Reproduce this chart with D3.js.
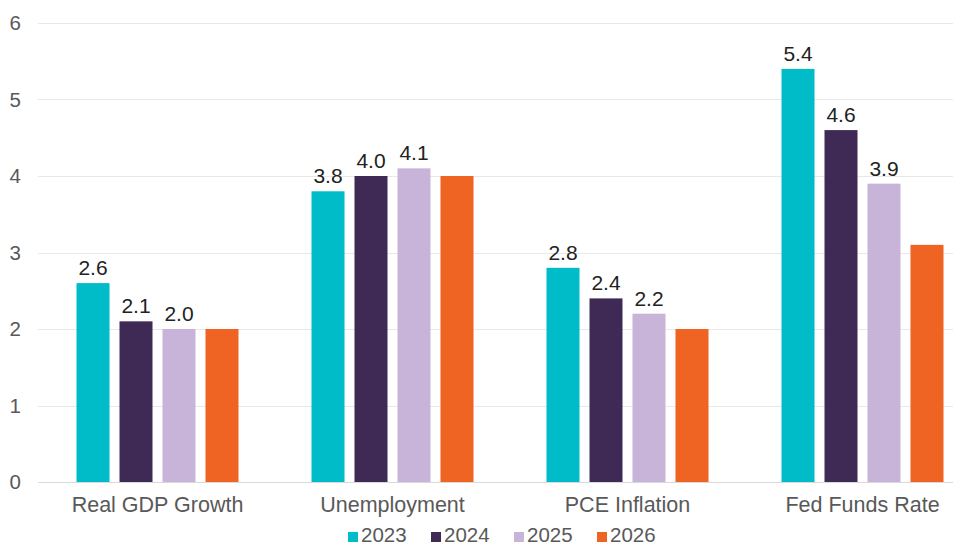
<!DOCTYPE html>
<html>
<head>
<meta charset="utf-8">
<script src="https://cdn.jsdelivr.net/npm/d3@7/dist/d3.min.js"></script>
<style>
  html, body { margin: 0; padding: 0; background: #ffffff; }
  svg { display: block; font-family: "Liberation Sans", Arial, sans-serif; }
</style>
</head>
<body>
<svg id="chart" width="953" height="548"></svg>
<script>
const categories = ["Real GDP Growth", "Unemployment", "PCE Inflation", "Fed Funds Rate"];
const series = ["2023", "2024", "2025", "2026"];
const values2023 = [2.6, 3.8, 2.8, 5.4];
const values2024 = [2.1, 4.0, 2.4, 4.6];
const values2025 = [2.0, 4.1, 2.2, 3.9];
const values2026 = [2.0, 4.0, 2.0, 3.1];
const labeledSeries = ["2023", "2024", "2025"];
const yTicks = [0, 1, 2, 3, 4, 5, 6];
const colors = ["#00BCC8", "#3F2A56", "#C9B4D9", "#EF6323"];

const seriesValues = [values2023, values2024, values2025, values2026];
const rows = categories.map((c, i) => ({
  category: c,
  items: series.map((s, j) => ({ series: s, value: seriesValues[j][i] }))
}));

const svg = d3.select("#chart");

const x0 = d3.scaleBand().domain(categories).range([40, 980]).paddingInner(0).paddingOuter(0);
const x1 = d3.scaleBand().domain(series).range([0, x0.bandwidth()])
  .paddingInner(10 / 43).paddingOuter(0.849);
const y = d3.scaleLinear().domain([0, 6]).range([482, 23]);
const color = d3.scaleOrdinal().domain(series).range(colors);

// gridlines
svg.append("g").selectAll("line").data(yTicks).join("line")
  .attr("x1", 38).attr("x2", 980)
  .attr("y1", d => Math.round(y(d)) + 0.5).attr("y2", d => Math.round(y(d)) + 0.5)
  .attr("stroke", d => d === 0 ? "#d9d9d9" : "#e8e8e8").attr("stroke-width", 1);

// y axis labels
const yAxis = d3.axisLeft(y).tickValues(yTicks).tickSize(0).tickPadding(0).tickFormat(d3.format("d"));
const gy = svg.append("g").attr("transform", "translate(21,0)").call(yAxis);
gy.select(".domain").remove();
gy.selectAll("text").attr("font-size", 20.5).attr("fill", "#595959")
  .attr("font-family", "'Liberation Sans', Arial, sans-serif");

// bars
const groups = svg.append("g").selectAll("g").data(rows).join("g")
  .attr("transform", d => `translate(${x0(d.category)},0)`);

groups.selectAll("rect").data(d => d.items).join("rect")
  .attr("x", d => x1(d.series))
  .attr("y", d => y(d.value))
  .attr("width", x1.bandwidth())
  .attr("height", d => y(0) - y(d.value))
  .attr("fill", d => color(d.series));

groups.selectAll("text.val").data(d => d.items.filter(it => labeledSeries.includes(it.series))).join("text")
  .attr("class", "val")
  .attr("x", d => x1(d.series) + x1.bandwidth() / 2)
  .attr("y", d => y(d.value) - 8)
  .attr("text-anchor", "middle")
  .attr("font-size", 21)
  .attr("fill", "#222222")
  .text(d => d3.format(".1f")(d.value));

// category axis
const xAxis = d3.axisBottom(x0).tickSize(0).tickPadding(0);
const gx = svg.append("g").attr("transform", "translate(0,497)").call(xAxis);
gx.select(".domain").remove();
gx.selectAll("text").attr("font-size", 21.5).attr("fill", "#595959")
  .attr("font-family", "'Liberation Sans', Arial, sans-serif")
  .attr("dy", "0.71em");

// legend
const legendX = d3.scalePoint().domain(series).range([348, 597]);
const leg = svg.append("g").selectAll("g").data(series).join("g")
  .attr("transform", d => `translate(${legendX(d)},0)`);
leg.append("rect").attr("x", 0).attr("y", 532).attr("width", 10).attr("height", 10)
  .attr("fill", d => color(d));
leg.append("text").attr("x", 13).attr("y", 542).attr("font-size", 20.5)
  .attr("fill", "#595959").text(d => d);
</script>
</body>
</html>
